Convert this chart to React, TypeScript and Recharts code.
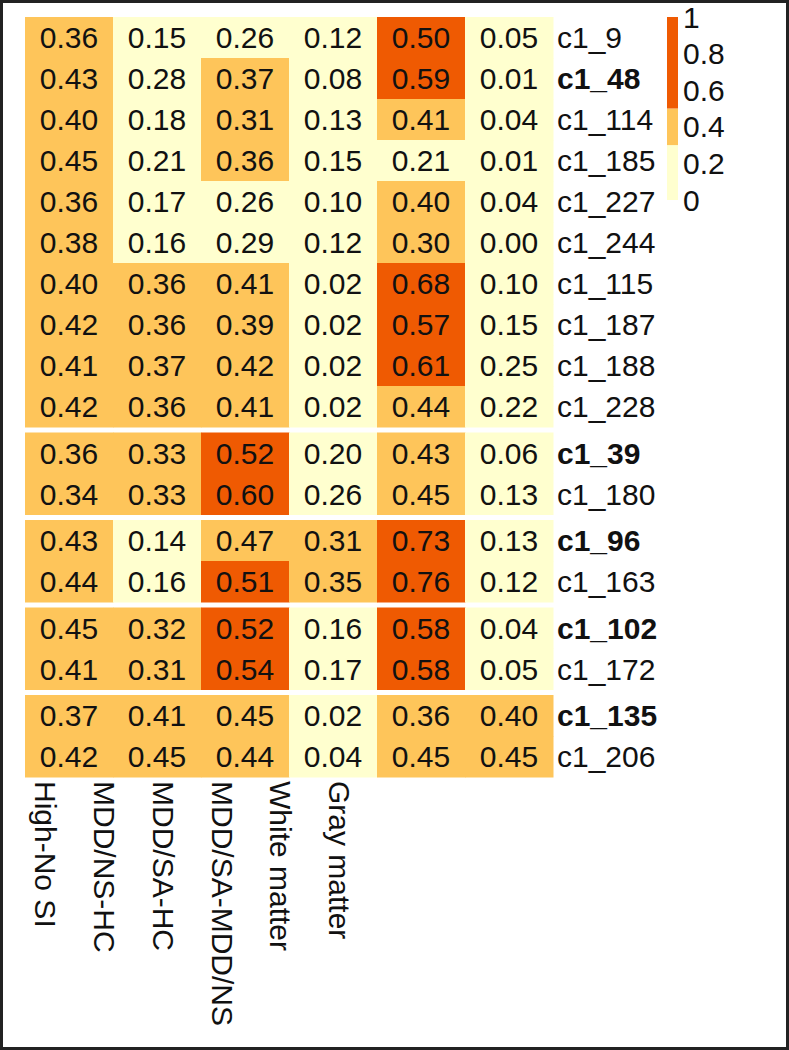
import { Bar, BarChart, Scatter, ScatterChart, XAxis, YAxis } from "recharts";

const COLUMNS = ["High-No SI", "MDD/NS-HC", "MDD/SA-HC", "MDD/SA-MDD/NS", "White matter", "Gray matter"];

const ROW_LABELS = [
  "c1_9", "c1_48", "c1_114", "c1_185", "c1_227", "c1_244", "c1_115", "c1_187", "c1_188", "c1_228",
  "c1_39", "c1_180", "c1_96", "c1_163", "c1_102", "c1_172", "c1_135", "c1_206",
];
const ROW_GROUPS = [0, 0, 0, 0, 0, 0, 0, 0, 0, 0, 1, 1, 2, 2, 3, 3, 4, 4];
const BOLD_ROWS = ["c1_48", "c1_39", "c1_96", "c1_102", "c1_135"];

const HIGH_NO_SI = [0.36, 0.43, 0.4, 0.45, 0.36, 0.38, 0.4, 0.42, 0.41, 0.42, 0.36, 0.34, 0.43, 0.44, 0.45, 0.41, 0.37, 0.42];
const MDD_NS_HC = [0.15, 0.28, 0.18, 0.21, 0.17, 0.16, 0.36, 0.36, 0.37, 0.36, 0.33, 0.33, 0.14, 0.16, 0.32, 0.31, 0.41, 0.45];
const MDD_SA_HC = [0.26, 0.37, 0.31, 0.36, 0.26, 0.29, 0.41, 0.39, 0.42, 0.41, 0.52, 0.6, 0.47, 0.51, 0.52, 0.54, 0.45, 0.44];
const MDD_SA_MDD_NS = [0.12, 0.08, 0.13, 0.15, 0.1, 0.12, 0.02, 0.02, 0.02, 0.02, 0.2, 0.26, 0.31, 0.35, 0.16, 0.17, 0.02, 0.04];
const WHITE_MATTER = [0.5, 0.59, 0.41, 0.21, 0.4, 0.3, 0.68, 0.57, 0.61, 0.44, 0.43, 0.45, 0.73, 0.76, 0.58, 0.58, 0.36, 0.45];
const GRAY_MATTER = [0.05, 0.01, 0.04, 0.01, 0.04, 0.0, 0.1, 0.15, 0.25, 0.22, 0.06, 0.13, 0.13, 0.12, 0.04, 0.05, 0.4, 0.45];

const SERIES = [HIGH_NO_SI, MDD_NS_HC, MDD_SA_HC, MDD_SA_MDD_NS, WHITE_MATTER, GRAY_MATTER];

// colour bins: [0, 0.3) light, [0.3, 0.5) orange, [0.5, 1] dark
const BREAKS = [0, 0.3, 0.5, 1];
const BIN_COLORS = ["#FFFFCF", "#FEC55A", "#EF5A02"];
const LEGEND_TICKS = [0, 0.2, 0.4, 0.6, 0.8, 1];

const FONT = "'Liberation Sans', Arial, Helvetica, sans-serif";
const INK = "#111";

const W = 789;
const H = 1050;
const PLOT_LEFT = 25;
const PLOT_TOP = 17;
const PLOT_RIGHT = 553;
const PLOT_BOTTOM = 777;
const ROW_PX = 41;
const GAP_PX = 5.5;
const GAP = GAP_PX / ROW_PX;
const CELL_W = (PLOT_RIGHT - PLOT_LEFT) / COLUMNS.length;
const Y_MAX = ROW_LABELS.length + GAP * ROW_GROUPS[ROW_GROUPS.length - 1];

// column labels in the source sit on a tighter pitch than the cells
const LABEL_PITCH = 58.9;
const LABEL_START = -0.35;
const LABEL_TOP = 781;

const rowPos = ROW_LABELS.map((_, i) => i + 0.5 + ROW_GROUPS[i] * GAP);

const cells = SERIES.flatMap((vals, c) =>
  vals.map((v, r) => ({ x: c, y: rowPos[r], value: v }))
);
const labelAnchors = COLUMNS.map((_, i) => ({ lx: i, y: rowPos[0] }));

const binColor = (v: number) => {
  for (let i = BREAKS.length - 2; i >= 0; i--) if (v >= BREAKS[i]) return BIN_COLORS[i];
  return BIN_COLORS[0];
};

const legendData = [
  {
    name: "scale",
    low: BREAKS[1] - BREAKS[0],
    mid: BREAKS[2] - BREAKS[1],
    high: BREAKS[3] - BREAKS[2],
  },
];

const CellShape = (props: any) => {
  const { cx, cy, payload } = props;
  if (cx == null || cy == null) return null;
  return (
    <g>
      <rect
        x={cx - CELL_W / 2}
        y={cy - ROW_PX / 2}
        width={CELL_W + 0.5}
        height={ROW_PX + 0.5}
        fill={binColor(payload.value)}
      />
      <text
        x={cx}
        y={cy}
        dy="0.36em"
        textAnchor="middle"
        fontSize={30}
        fontFamily={FONT}
        fill={INK}
      >
        {payload.value.toFixed(2)}
      </text>
    </g>
  );
};

const RowTick = (props: any) => {
  const { x, y, payload } = props;
  const idx = rowPos.findIndex((p) => Math.abs(p - payload.value) < 1e-6);
  const label = ROW_LABELS[idx] ?? "";
  return (
    <text
      x={x}
      y={y}
      dy="0.36em"
      textAnchor="start"
      fontSize={30}
      fontFamily={FONT}
      fontWeight={BOLD_ROWS.includes(label) ? 700 : 400}
      fill={INK}
    >
      {label}
    </text>
  );
};

const ColTick = (props: any) => {
  const { x, payload } = props;
  const y = LABEL_TOP;
  return (
    <text
      x={x}
      y={y}
      transform={`rotate(90 ${x} ${y})`}
      dy="0.36em"
      textAnchor="start"
      fontSize={30}
      fontFamily={FONT}
      fill={INK}
    >
      {COLUMNS[payload.value]}
    </text>
  );
};

export default function App() {
  return (
    <div style={{ position: "absolute", left: 0, top: 0, width: W, height: H, background: "#fff" }}>
      <ScatterChart
        width={W}
        height={H}
        margin={{ left: PLOT_LEFT, top: PLOT_TOP, right: 0, bottom: 0 }}
      >
        <XAxis xAxisId="cells" type="number" dataKey="x" domain={[-0.5, COLUMNS.length - 0.5]} hide />
        <XAxis
          xAxisId="labels"
          type="number"
          dataKey="lx"
          domain={[LABEL_START, LABEL_START + (PLOT_RIGHT - PLOT_LEFT) / LABEL_PITCH]}
          ticks={[0, 1, 2, 3, 4, 5]}
          interval={0}
          height={H - PLOT_BOTTOM}
          axisLine={false}
          tickLine={false}
          tickSize={0}
          tickMargin={4}
          tick={<ColTick />}
          allowDataOverflow
        />
        <YAxis
          yAxisId="rows"
          type="number"
          dataKey="y"
          orientation="right"
          reversed
          domain={[0, Y_MAX]}
          ticks={rowPos}
          interval={0}
          width={W - PLOT_RIGHT}
          axisLine={false}
          tickLine={false}
          tickSize={0}
          tickMargin={4}
          tick={<RowTick />}
        />
        <Scatter
          data={cells}
          xAxisId="cells"
          yAxisId="rows"
          shape={<CellShape />}
          isAnimationActive={false}
        />
        <Scatter
          data={labelAnchors}
          xAxisId="labels"
          yAxisId="rows"
          shape={() => <g />}
          isAnimationActive={false}
        />
      </ScatterChart>

      <div style={{ position: "absolute", left: 667, top: 0 }}>
        <BarChart
          width={80}
          height={230}
          data={legendData}
          margin={{ left: 0, right: 0, top: 17, bottom: 30 }}
          barCategoryGap={0}
        >
          <XAxis dataKey="name" hide />
          <YAxis
            orientation="right"
            domain={[0, 1]}
            ticks={LEGEND_TICKS}
            interval={0}
            width={69}
            axisLine={false}
            tickLine={false}
            tickSize={0}
            tickMargin={5}
            tick={{ fontSize: 30, fontFamily: FONT, fill: INK, textAnchor: "start" }}
          />
          <Bar dataKey="low" stackId="s" fill={BIN_COLORS[0]} isAnimationActive={false} />
          <Bar dataKey="mid" stackId="s" fill={BIN_COLORS[1]} isAnimationActive={false} />
          <Bar dataKey="high" stackId="s" fill={BIN_COLORS[2]} isAnimationActive={false} />
        </BarChart>
      </div>

      <div
        style={{
          position: "absolute",
          inset: 0,
          border: "3px solid #222",
          boxSizing: "border-box",
          pointerEvents: "none",
        }}
      />
    </div>
  );
}
